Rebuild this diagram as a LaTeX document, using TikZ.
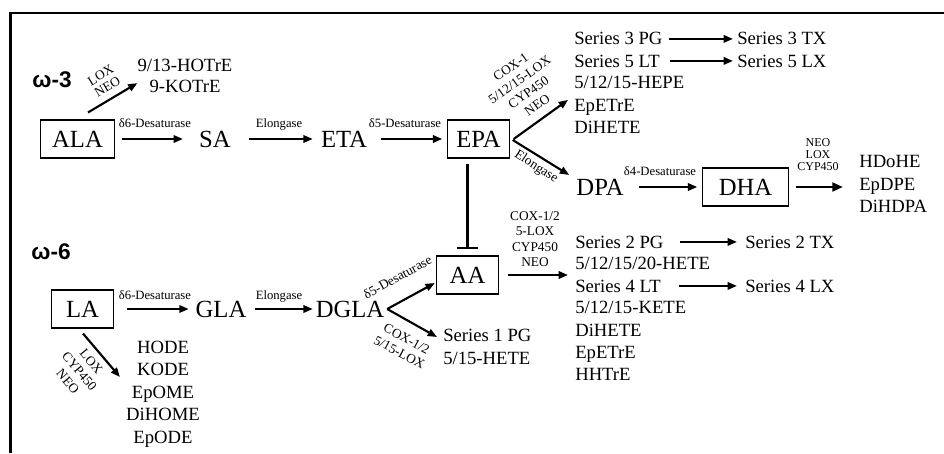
\documentclass[tikz,border=0pt]{standalone}
\usepackage{fontspec}
\setmainfont{Liberation Serif}
\setsansfont{Liberation Sans}
\usetikzlibrary{arrows.meta}

\begin{document}
\begin{tikzpicture}[x=0.75pt,y=-0.75pt,
		acid/.style = {inner sep=0pt, font=\fontsize{18.5}{20}\selectfont},
		acidbox/.style = {acid, draw, line width=0.8pt, minimum height=28.5pt},
		prod/.style = {inner sep=0pt, align=left, font=\fontsize{14}{16.8}\selectfont},
		enz/.style = {inner sep=0pt, align=center, font=\fontsize{9.5}{11.5}\selectfont},
		omega/.style = {inner sep=0pt, font=\fontsize{17}{19}\sffamily\bfseries},
		arr/.style = {line width=1.6pt, -{Triangle[length=7pt,width=5.5pt]}}]
		\useasboundingbox (0,0) rectangle (944,453);
		\draw[line width=1.6pt] (10.5,453) -- (10.5,12.8) -- (944,12.8);
		
		\node[omega] (w3) at (52,80) {ω-3};
		\node[omega] (w6) at (51,252) {ω-6};
		
		\node[acidbox, minimum width=55pt] (ala) at (77.5,139) {ALA};
		\node[acid] (sa) at (215,139) {SA};
		\node[acid] (eta) at (344,139) {ETA};
		\node[acidbox, minimum width=46pt] (epa) at (478.5,139) {EPA};
		\node[acid] (dpa) at (600,187) {DPA};
		\node[acidbox, minimum width=64pt] (dha) at (745.5,187) {DHA};
		\node[acidbox, minimum width=46pt] (la) at (82.5,309) {LA};
		\node[acid] (gla) at (221,309) {GLA};
		\node[acid] (dgla) at (350,309) {DGLA};
		\node[acidbox, minimum width=46pt] (aa) at (467.5,275) {AA};
		
		\node[prod, align=center, font=\fontsize{14}{15.8}\selectfont] (hotre) at (185,76) {9/13-HOTrE\\9-KOTrE};
		\node[prod, anchor=base west] (s3pg) at (574,45) {Series 3 PG};
		\node[prod, anchor=base west] (s5lt) at (574,67) {Series 5 LT};
		\node[prod, anchor=north west] (hepe) at (574,76) {5/12/15-HEPE\\EpETrE\\DiHETE};
		\node[prod, anchor=base west] (s3tx) at (737,45) {Series 3 TX};
		\node[prod, anchor=base west] (s5lx) at (737,67) {Series 5 LX};
		\node[prod, anchor=north west] (dhaprod) at (859,155.5) {HDoHE\\EpDPE\\DiHDPA};
		\node[prod, anchor=base west] (s2pg) at (575,248) {Series 2 PG};
		\node[prod, anchor=base west] (h20) at (575,269) {5/12/15/20-HETE};
		\node[prod, anchor=base west] (s4lt) at (575,292) {Series 4 LT};
		\node[prod, anchor=north west] (kete) at (575,301) {5/12/15-KETE\\DiHETE\\EpETrE\\HHTrE};
		\node[prod, anchor=base west] (s2tx) at (745,248) {Series 2 TX};
		\node[prod, anchor=base west] (s4lx) at (745,292) {Series 4 LX};
		\node[prod, anchor=north west] (s1pg) at (443,329) {Series 1 PG\\5/15-HETE};
		\node[prod, align=center] (laprod) at (163,394) {HODE\\KODE\\EpOME\\DiHOME\\EpODE};
		
		\node[enz, anchor=base] (d6a) at (155,127) {δ6-Desaturase};
		\node[enz, anchor=base] (ela) at (279,127) {Elongase};
		\node[enz, anchor=base] (d5a) at (405,127) {δ5-Desaturase};
		\node[enz, anchor=base] (d4a) at (660,175) {δ4-Desaturase};
		\node[enz, anchor=base] (d6b) at (155,299) {δ6-Desaturase};
		\node[enz, anchor=base] (elb) at (279,299) {Elongase};
		\node[enz, anchor=south, font=\fontsize{9}{9.2}\selectfont] (dhaenz) at (818,171) {NEO\\LOX\\CYP450};
		\node[enz, anchor=south, font=\fontsize{10}{11.5}\selectfont] (aaenz) at (535,267) {COX-1/2\\5-LOX\\CYP450\\NEO};
		\node[enz, rotate=31, font=\fontsize{10}{10}\selectfont] (alaenz) at (104,81) {LOX\\NEO};
		\node[enz, rotate=35, font=\fontsize{10}{11.5}\selectfont] (epaenz) at (524,86) {COX-1\\5/12/15-LOX\\CYP450\\NEO};
		\node[enz, rotate=-33, font=\fontsize{10}{11.5}\selectfont] (elc) at (536,167) {Elongase};
		\node[enz, rotate=29, font=\fontsize{10}{11.5}\selectfont] (d5b) at (397.5,277) {δ5-Desaturase};
		\node[enz, rotate=-28, font=\fontsize{10}{11.5}\selectfont] (dglaenz) at (403,345.5) {COX-1/2\\5/15-LOX};
		\node[enz, rotate=-50, font=\fontsize{10}{11.5}\selectfont] (laenz) at (79.5,371.5) {LOX\\CYP450\\NEO};
		
		\draw[arr] ([shift={(10.5,-7)}]ala.north) -- ([shift={(0,-10)}]hotre.south west);
		\draw[arr, shorten <=5.25pt, shorten >=12pt] (ala) -- (sa);
		\draw[arr, shorten <=13.5pt, shorten >=6pt] (sa) -- (eta);
		\draw[arr, shorten <=10.5pt, shorten >=3.75pt] (eta) -- (epa);
		\draw[arr] ([xshift=3pt]epa.east) -- ([shift={(-6,-5)}]hepe.west);
		\draw[arr] ([shift={(3,1)}]epa.east) -- ([shift={(-7,-12)}]dpa.west);
		\draw[arr, shorten <=11.25pt, shorten >=3.75pt] (dpa) -- (dha);
		\draw[line width=2.2pt, -{Triangle[length=8pt,width=6.5pt]}, shorten <=5.25pt, shorten >=12pt] (dha.east) -- (dha.east -| dhaprod.west);
		\draw[line width=1.6pt, -{Bar[width=16pt]}, shorten <=3.75pt, shorten >=4.5pt] (aa.north |- epa.south) -- (aa.north);
		\draw[arr, shorten <=6.75pt, shorten >=5.25pt] (aa.east) -- (aa.east -| s2pg.west);
		\draw[arr] ([xshift=2pt]dgla.east) -- ([shift={(-1.5,8)}]aa.west);
		\draw[arr] ([xshift=2pt]dgla.east) -- ([shift={(-6,-9.7)}]s1pg.west);
		\draw[arr, shorten <=9.75pt, shorten >=5pt] (la) -- (gla);
		\draw[arr, shorten <=6.5pt, shorten >=2pt] (gla) -- (dgla);
		\draw[arr] ([shift={(0.5,5)}]la.south) -- ([shift={(-6,-17)}]laprod.west);
		\draw[arr, shorten <=4.5pt, shorten >=3pt] (s3pg) -- (s3tx);
		\draw[arr, shorten <=7.5pt, shorten >=3pt] (s5lt) -- (s5lx);
		\draw[arr, shorten <=12pt, shorten >=6pt] (s2pg) -- (s2tx);
		\draw[arr, shorten <=13.5pt, shorten >=6pt] (s4lt) -- (s4lx);
	\end{tikzpicture}
\end{document}
